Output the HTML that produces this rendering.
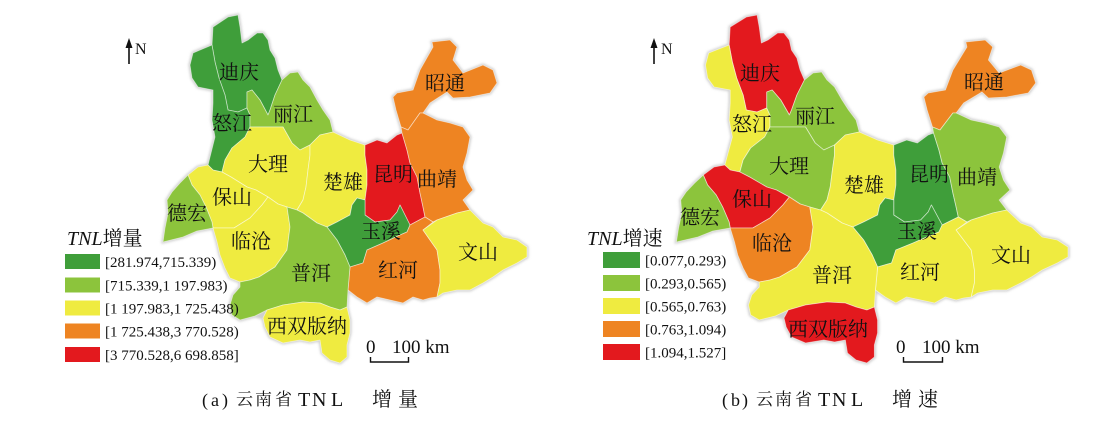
<!DOCTYPE html>
<html><head><meta charset="utf-8"><style>
html,body{margin:0;padding:0;background:#fff;}
svg{display:block;}
.lb{font-family:"Liberation Serif","Noto Serif CJK SC",serif;font-size:20px;fill:#111;text-anchor:middle;}
.lg{font-family:"Liberation Serif",serif;font-size:15px;fill:#111;}
.tt{font-family:"Liberation Serif","Noto Serif CJK SC",serif;font-size:20px;fill:#111;}
.cap{font-family:"Liberation Serif","Noto Serif CJK SC",serif;font-size:18px;fill:#111;}
.cj{font-family:"Noto Serif CJK SC",serif;font-size:17px;fill:#111;}
.cj2{font-family:"Noto Serif CJK SC",serif;font-size:20px;fill:#111;}
.tn{font-family:"Liberation Serif",serif;font-size:20px;fill:#111;}
</style></head><body>
<svg width="1096" height="422" viewBox="0 0 1096 422" xmlns="http://www.w3.org/2000/svg">
<defs><filter id="bl" x="-10%" y="-10%" width="120%" height="120%"><feGaussianBlur stdDeviation="1.3"/></filter></defs>
<rect width="1096" height="422" fill="#fff"/>

<!-- LEFT MAP -->
<g id="L">
<g filter="url(#bl)" fill="#cfcfcf" stroke="#cfcfcf" stroke-width="3">
<polygon points="213,27 228,17 238,15 240,27 242,43 248,40 257,33 263,33 268,40 270,50 275,58 278,70 282,80 290,73 298,72 303,80 310,87 317,100 323,110 330,120 333,132 350,140 365,145 377,140 387,143 397,135 402,133 401,127 396,110 393,97 397,93 413,90 420,70 433,47 432,42 450,40 457,47 453,60 463,73 483,65 493,70 497,83 490,93 470,97 453,98 447,92 430,103 423,113 437,120 450,123 463,127 470,137 467,153 463,167 467,180 473,190 463,200 470,210 483,223 493,227 503,237 517,240 527,247 527,257 517,263 503,270 493,277 483,283 470,290 457,290 443,293 437,297 430,298 423,300 413,297 403,303 390,300 377,297 367,303 357,297 348,290 347,307 350,320 350,333 347,345 347,357 340,363 330,360 322,353 320,340 310,342 300,340 283,343 270,337 265,327 263,318 255,316 240,320 232,315 230,305 233,295 240,287 240,282 230,278 225,268 220,255 217,242 213,228 197,231 183,237 163,242 165,228 168,213 167,200 172,192 180,183 188,175 198,167 208,165 210,157 215,137 212,120 213,103 213,90 198,87 192,78 190,65 193,53 200,50 212,45"/>
</g>
<g stroke="rgba(255,255,255,0.55)" stroke-width="0.8" stroke-linejoin="round">
<polygon fill="#3f9e3a" points="213,27 228,17 238,15 240,27 242,43 248,40 257,33 263,33 268,40 270,50 275,58 278,70 282,80 275,95 270,110 268,115 260,100 252,90 247,92 247,108 238,112 228,110 225,95 219,78 215,62 212,45"/>
<polygon fill="#3f9e3a" points="212,45 200,50 193,53 190,65 192,78 198,87 213,90 213,103 212,120 215,137 210,157 208,165 213,170 222,172 225,160 232,148 245,137 250,127 250,115 247,108 238,112 228,110 225,95 219,78 215,62"/>
<polygon fill="#8cc43c" points="282,80 290,73 298,72 303,80 310,87 317,100 323,110 330,120 333,132 320,135 310,145 300,150 292,143 283,127 250,127 250,115 247,108 247,92 252,90 260,100 268,115 270,110 275,95"/>
<polygon fill="#efeb40" points="250,127 283,127 292,143 300,150 310,145 310,155 308,170 306,187 303,200 297,210 287,207 278,204 268,197 256,190 247,187 231,177 222,172 225,160 232,148 245,137"/>
<polygon fill="#efeb40" points="310,145 320,135 333,132 350,140 365,145 365,155 367,170 367,185 365,200 357,198 352,205 350,215 337,222 327,227 317,223 303,213 297,210 303,200 306,187 308,170 310,155"/>
<polygon fill="#e3191e" points="365,145 377,140 387,143 397,135 402,133 407,150 410,163 417,177 420,193 423,207 425,217 410,225 405,215 400,205 397,212 390,220 375,222 365,215 365,200 367,185 367,170 365,155"/>
<polygon fill="#ee8422" points="393,97 397,93 413,90 420,70 433,47 432,42 450,40 457,47 453,60 463,73 483,65 493,70 497,83 490,93 470,97 453,98 447,92 430,103 423,113 420,113 408,130 401,127 396,110"/>
<polygon fill="#ee8422" points="401,127 408,130 420,113 423,113 437,120 450,123 463,127 470,137 467,153 463,167 467,180 473,190 463,200 470,210 457,213 437,220 433,222 425,217 423,207 420,193 417,177 410,163 407,150 402,133"/>
<polygon fill="#3f9e3a" points="327,227 337,222 350,215 352,205 357,198 365,200 365,215 375,222 390,220 397,212 400,205 405,215 410,225 407,232 400,235 383,243 367,250 363,263 350,267 345,255 337,240"/>
<polygon fill="#ee8422" points="350,267 363,263 367,250 383,243 400,235 407,232 410,225 425,217 433,222 423,230 430,240 437,250 440,270 440,283 437,297 430,298 423,300 413,297 403,303 390,300 377,297 367,303 357,297 348,290"/>
<polygon fill="#efeb40" points="423,230 437,220 457,213 470,210 483,223 493,227 503,237 517,240 527,247 527,257 517,263 503,270 493,277 483,283 470,290 457,290 443,293 437,297 440,283 440,270 437,250 430,240"/>
<polygon fill="#efeb40" points="188,175 198,167 208,165 213,170 222,172 231,177 247,187 256,190 268,197 262,205 250,218 234,228 213,228 212,222 206,207 200,195 192,185"/>
<polygon fill="#8cc43c" points="188,175 192,185 200,195 206,207 212,222 213,228 197,231 183,237 163,242 165,228 168,213 167,200 172,192 180,183"/>
<polygon fill="#efeb40" points="213,228 234,228 250,218 262,205 268,197 278,204 287,207 290,227 287,250 275,267 259,277 250,280 240,282 230,278 225,268 220,255 217,242"/>
<polygon fill="#8cc43c" points="287,207 297,210 303,213 317,223 327,227 337,240 345,255 350,267 348,290 347,307 340,310 330,307 320,303 303,302 283,305 267,310 255,316 240,320 232,315 230,305 233,295 240,287 240,282 250,280 259,277 275,267 287,250 290,227"/>
<polygon fill="#efeb40" points="267,310 283,305 303,302 320,303 330,307 340,310 347,307 350,320 350,333 347,345 347,357 340,363 330,360 322,353 320,340 310,342 300,340 283,343 270,337 265,327 263,318"/>
</g>
</g>

<!-- RIGHT MAP -->
<g transform="matrix(1.076 0 0 1 501 0)">
<g filter="url(#bl)" fill="#cfcfcf" stroke="#cfcfcf" stroke-width="3">
<polygon points="213,27 228,17 238,15 240,27 242,43 248,40 257,33 263,33 268,40 270,50 275,58 278,70 282,80 290,73 298,72 303,80 310,87 317,100 323,110 330,120 333,132 350,140 365,145 377,140 387,143 397,135 402,133 401,127 396,110 393,97 397,93 413,90 420,70 433,47 432,42 450,40 457,47 453,60 463,73 483,65 493,70 497,83 490,93 470,97 453,98 447,92 430,103 423,113 437,120 450,123 463,127 470,137 467,153 463,167 467,180 473,190 463,200 470,210 483,223 493,227 503,237 517,240 527,247 527,257 517,263 503,270 493,277 483,283 470,290 457,290 443,293 437,297 430,298 423,300 413,297 403,303 390,300 377,297 367,303 357,297 348,290 347,307 350,320 350,333 347,345 347,357 340,363 330,360 322,353 320,340 310,342 300,340 283,343 270,337 265,327 263,318 255,316 240,320 232,315 230,305 233,295 240,287 240,282 230,278 225,268 220,255 217,242 213,228 197,231 183,237 163,242 165,228 168,213 167,200 172,192 180,183 188,175 198,167 208,165 210,157 215,137 212,120 213,103 213,90 198,87 192,78 190,65 193,53 200,50 212,45"/>
</g>
<g stroke="rgba(255,255,255,0.55)" stroke-width="0.8" stroke-linejoin="round">
<polygon fill="#e3191e" points="213,27 228,17 238,15 240,27 242,43 248,40 257,33 263,33 268,40 270,50 275,58 278,70 282,80 275,95 270,110 268,115 260,100 252,90 247,92 247,108 238,112 228,110 225,95 219,78 215,62 212,45"/>
<polygon fill="#efeb40" points="212,45 200,50 193,53 190,65 192,78 198,87 213,90 213,103 212,120 215,137 210,157 208,165 213,170 222,172 225,160 232,148 245,137 250,127 250,115 247,108 238,112 228,110 225,95 219,78 215,62"/>
<polygon fill="#8cc43c" points="282,80 290,73 298,72 303,80 310,87 317,100 323,110 330,120 333,132 320,135 310,145 300,150 292,143 283,127 250,127 250,115 247,108 247,92 252,90 260,100 268,115 270,110 275,95"/>
<polygon fill="#8cc43c" points="250,127 283,127 292,143 300,150 310,145 310,155 308,170 306,187 303,200 297,210 287,207 278,204 268,197 256,190 247,187 231,177 222,172 225,160 232,148 245,137"/>
<polygon fill="#efeb40" points="310,145 320,135 333,132 350,140 365,145 365,155 367,170 367,185 365,200 357,198 352,205 350,215 337,222 327,227 317,223 303,213 297,210 303,200 306,187 308,170 310,155"/>
<polygon fill="#3f9e3a" points="365,145 377,140 387,143 397,135 402,133 407,150 410,163 417,177 420,193 423,207 425,217 410,225 405,215 400,205 397,212 390,220 375,222 365,215 365,200 367,185 367,170 365,155"/>
<polygon fill="#ee8422" points="393,97 397,93 413,90 420,70 433,47 432,42 450,40 457,47 453,60 463,73 483,65 493,70 497,83 490,93 470,97 453,98 447,92 430,103 423,113 420,113 408,130 401,127 396,110"/>
<polygon fill="#8cc43c" points="401,127 408,130 420,113 423,113 437,120 450,123 463,127 470,137 467,153 463,167 467,180 473,190 463,200 470,210 457,213 437,220 433,222 425,217 423,207 420,193 417,177 410,163 407,150 402,133"/>
<polygon fill="#3f9e3a" points="327,227 337,222 350,215 352,205 357,198 365,200 365,215 375,222 390,220 397,212 400,205 405,215 410,225 407,232 400,235 383,243 367,250 363,263 350,267 345,255 337,240"/>
<polygon fill="#efeb40" points="350,267 363,263 367,250 383,243 400,235 407,232 410,225 425,217 433,222 423,230 430,240 437,250 440,270 440,283 437,297 430,298 423,300 413,297 403,303 390,300 377,297 367,303 357,297 348,290"/>
<polygon fill="#efeb40" points="423,230 437,220 457,213 470,210 483,223 493,227 503,237 517,240 527,247 527,257 517,263 503,270 493,277 483,283 470,290 457,290 443,293 437,297 440,283 440,270 437,250 430,240"/>
<polygon fill="#e3191e" points="188,175 198,167 208,165 213,170 222,172 231,177 247,187 256,190 268,197 262,205 250,218 234,228 213,228 212,222 206,207 200,195 192,185"/>
<polygon fill="#8cc43c" points="188,175 192,185 200,195 206,207 212,222 213,228 197,231 183,237 163,242 165,228 168,213 167,200 172,192 180,183"/>
<polygon fill="#ee8422" points="213,228 234,228 250,218 262,205 268,197 278,204 287,207 290,227 287,250 275,267 259,277 250,280 240,282 230,278 225,268 220,255 217,242"/>
<polygon fill="#efeb40" points="287,207 297,210 303,213 317,223 327,227 337,240 345,255 350,267 348,290 347,307 340,310 330,307 320,303 303,302 283,305 267,310 255,316 240,320 232,315 230,305 233,295 240,287 240,282 250,280 259,277 275,267 287,250 290,227"/>
<polygon fill="#e3191e" points="267,310 283,305 303,302 320,303 330,307 340,310 347,307 350,320 350,333 347,345 347,357 340,363 330,360 322,353 320,340 310,342 300,340 283,343 270,337 265,327 263,318"/>
</g>
</g>

<!-- LEFT labels -->
<g class="lb">
<text x="239" y="79">迪庆</text>
<text x="232" y="130">怒江</text>
<text x="293" y="121">丽江</text>
<text x="268" y="171">大理</text>
<text x="343" y="189">楚雄</text>
<text x="393" y="181">昆明</text>
<text x="437" y="186">曲靖</text>
<text x="445" y="90">昭通</text>
<text x="232" y="204">保山</text>
<text x="187" y="220">德宏</text>
<text x="251" y="248">临沧</text>
<text x="311" y="280">普洱</text>
<text x="381" y="238">玉溪</text>
<text x="398" y="277">红河</text>
<text x="478" y="259">文山</text>
<text x="307" y="333">西双版纳</text>
</g>
<!-- RIGHT labels -->
<g class="lb">
<text x="760" y="80">迪庆</text>
<text x="752" y="131">怒江</text>
<text x="815" y="123">丽江</text>
<text x="789" y="173">大理</text>
<text x="752" y="206">保山</text>
<text x="864" y="192">楚雄</text>
<text x="929" y="181">昆明</text>
<text x="977" y="184">曲靖</text>
<text x="984" y="89">昭通</text>
<text x="700" y="224">德宏</text>
<text x="772" y="250">临沧</text>
<text x="832" y="282">普洱</text>
<text x="917" y="238">玉溪</text>
<text x="920" y="279">红河</text>
<text x="1011" y="262">文山</text>
<text x="828" y="336">西双版纳</text>
</g>

<!-- North arrows -->
<g stroke="#111" stroke-width="1.6"><line x1="129" y1="64" x2="129" y2="45"/><line x1="654" y1="64" x2="654" y2="45"/></g>
<polygon points="125.5,48 129,38 132.5,48" fill="#111"/>
<polygon points="650.5,48 654,38 657.5,48" fill="#111"/>
<text x="135" y="54" style="font-family:'Liberation Serif',serif;font-size:16px;fill:#111">N</text>
<text x="661" y="54" style="font-family:'Liberation Serif',serif;font-size:16px;fill:#111">N</text>

<!-- scale bars -->
<polyline points="370.5,357 370.5,362 408.5,362 408.5,357" fill="none" stroke="#111" stroke-width="1.4"/>
<polyline points="903.5,357 903.5,362 942.5,362 942.5,357" fill="none" stroke="#111" stroke-width="1.4"/>
<g style="font-family:'Liberation Serif',serif;font-size:19px;fill:#111">
<text x="366" y="353">0</text><text x="392" y="353">100 km</text>
<text x="896" y="353">0</text><text x="922" y="353">100 km</text>
</g>

<!-- Left legend -->
<text class="tt" x="67" y="245"><tspan font-style="italic">TNL</tspan>增量</text>
<rect x="65" y="254" width="35" height="15" fill="#3f9e3a"/>
<rect x="65" y="277.5" width="35" height="15" fill="#8cc43c"/>
<rect x="65" y="300.5" width="35" height="15" fill="#efeb40"/>
<rect x="65" y="323.5" width="35" height="15" fill="#ee8422"/>
<rect x="65" y="347" width="35" height="15" fill="#e3191e"/>
<g class="lg">
<text x="105" y="267">[281.974,715.339)</text>
<text x="105" y="290.5">[715.339,1 197.983)</text>
<text x="105" y="313.5">[1 197.983,1 725.438)</text>
<text x="105" y="336.5">[1 725.438,3 770.528)</text>
<text x="105" y="360">[3 770.528,6 698.858]</text>
</g>

<!-- Right legend -->
<text class="tt" x="587" y="245"><tspan font-style="italic">TNL</tspan>增速</text>
<rect x="603" y="252" width="37" height="16" fill="#3f9e3a"/>
<rect x="603" y="275" width="37" height="16" fill="#8cc43c"/>
<rect x="603" y="298" width="37" height="16" fill="#efeb40"/>
<rect x="603" y="321" width="37" height="16" fill="#ee8422"/>
<rect x="603" y="344" width="37" height="16" fill="#e3191e"/>
<g class="lg">
<text x="645" y="265.5">[0.077,0.293)</text>
<text x="645" y="288.5">[0.293,0.565)</text>
<text x="645" y="311.5">[0.565,0.763)</text>
<text x="645" y="334.5">[0.763,1.094)</text>
<text x="645" y="357.5">[1.094,1.527]</text>
</g>

<!-- Captions -->
<g class="cap">
<text x="202" y="406">(</text><text x="211" y="406">a</text><text x="222" y="406">)</text>
<text x="722" y="406">(</text><text x="731" y="406">b</text><text x="742" y="406">)</text>
</g>
<g class="cj">
<text x="236" y="405">云</text><text x="255" y="405">南</text><text x="275" y="405">省</text>
<text x="756" y="405">云</text><text x="775" y="405">南</text><text x="795" y="405">省</text>
</g>
<g class="tn">
<text x="298" y="406">T</text><text x="312" y="406">N</text><text x="331" y="406">L</text>
<text x="818" y="406">T</text><text x="832" y="406">N</text><text x="851" y="406">L</text>
</g>
<g class="cj2">
<text x="372" y="406">增</text><text x="398" y="406">量</text>
<text x="892" y="406">增</text><text x="918" y="406">速</text>
</g>
</svg>
</body></html>
